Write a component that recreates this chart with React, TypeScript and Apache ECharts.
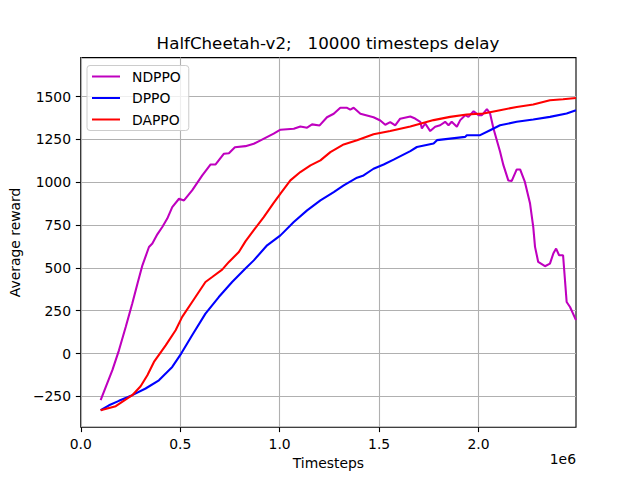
import React, { useEffect, useRef } from "react";
import * as echarts from "echarts";

// x values are in units of 1e6 timesteps
const ndppoX = [0.1, 0.126, 0.159, 0.192, 0.226, 0.259, 0.285, 0.31, 0.343, 0.36, 0.385, 0.41, 0.435, 0.46, 0.494, 0.519, 0.56, 0.611, 0.653, 0.678, 0.72, 0.745, 0.775, 0.828, 0.87, 0.904, 0.97, 1.004, 1.071, 1.104, 1.138, 1.163, 1.201, 1.238, 1.272, 1.305, 1.339, 1.355, 1.372, 1.406, 1.472, 1.506, 1.531, 1.556, 1.581, 1.606, 1.657, 1.681, 1.707, 1.715, 1.732, 1.757, 1.782, 1.807, 1.832, 1.849, 1.865, 1.891, 1.908, 1.933, 1.949, 1.975, 2.0, 2.017, 2.042, 2.058, 2.075, 2.108, 2.125, 2.15, 2.167, 2.192, 2.209, 2.233, 2.259, 2.275, 2.284, 2.3, 2.334, 2.359, 2.376, 2.39, 2.405, 2.425, 2.443, 2.46, 2.49];
const ndppoY = [-272, -195, -97, 19, 155, 292, 408, 515, 622, 642, 696, 739, 788, 855, 904, 894, 953, 1040, 1104, 1104, 1167, 1170, 1205, 1211, 1225, 1245, 1284, 1307, 1313, 1326, 1319, 1338, 1332, 1380, 1400, 1435, 1435, 1424, 1435, 1400, 1380, 1361, 1336, 1351, 1332, 1371, 1384, 1372, 1353, 1314, 1343, 1299, 1324, 1333, 1353, 1333, 1353, 1324, 1363, 1392, 1382, 1415, 1392, 1392, 1427, 1402, 1314, 1180, 1100, 1010, 1008, 1075, 1075, 1002, 876, 740, 623, 535, 510, 525, 584, 613, 574, 574, 301, 272, 195];

const dppoX = [0.1, 0.142, 0.192, 0.259, 0.326, 0.393, 0.46, 0.505, 0.56, 0.627, 0.694, 0.761, 0.828, 0.87, 0.937, 1.004, 1.071, 1.138, 1.205, 1.272, 1.322, 1.389, 1.422, 1.472, 1.523, 1.573, 1.657, 1.69, 1.774, 1.791, 1.857, 1.933, 1.941, 2.008, 2.058, 2.108, 2.192, 2.275, 2.359, 2.443, 2.49];
const dppoY = [-331, -302, -276, -243, -204, -156, -78, 0, 107, 233, 330, 418, 496, 544, 632, 690, 768, 836, 894, 943, 982, 1027, 1040, 1079, 1104, 1132, 1182, 1206, 1226, 1246, 1255, 1265, 1275, 1275, 1304, 1333, 1353, 1367, 1382, 1402, 1421];

const dappoX = [0.1, 0.176, 0.259, 0.301, 0.335, 0.368, 0.427, 0.477, 0.51, 0.56, 0.627, 0.661, 0.711, 0.745, 0.795, 0.828, 0.87, 0.92, 0.97, 1.004, 1.054, 1.104, 1.155, 1.205, 1.255, 1.322, 1.389, 1.472, 1.556, 1.657, 1.774, 1.857, 1.941, 2.025, 2.108, 2.192, 2.275, 2.359, 2.425, 2.49];
const dappoY = [-331, -307, -243, -191, -127, -49, 48, 136, 214, 301, 418, 447, 490, 535, 593, 655, 720, 797, 880, 934, 1011, 1060, 1099, 1128, 1176, 1221, 1245, 1280, 1299, 1326, 1363, 1382, 1396, 1402, 1421, 1440, 1454, 1479, 1485, 1492];

const xTicks = [0, 0.5, 1.0, 1.5, 2.0];
const yTicks = [-250, 0, 250, 500, 750, 1000, 1250, 1500];

const seriesNames = ["NDPPO", "DPPO", "DAPPO"];
const seriesColors = ["#bf00bf", "#0000ff", "#ff0000"];

const TITLE = "HalfCheetah-v2;   10000 timesteps delay";
const FONT = "DejaVu Sans";

const zip = (xs: number[], ys: number[]) => xs.map((x, i) => [x, ys[i]]);

export default function App() {
  const ref = useRef<HTMLDivElement>(null);
  useEffect(() => {
    document.body.style.margin = "0";
    const chart = echarts.init(ref.current!, null, { renderer: "svg" });
    const datasets = [zip(ndppoX, ndppoY), zip(dppoX, dppoY), zip(dappoX, dappoY)];
    chart.setOption({
      animation: false,
      backgroundColor: "#ffffff",
      textStyle: { fontFamily: FONT },
      title: {
        text: TITLE,
        left: 323,
        textAlign: "center",
        top: 29,
        textStyle: { fontFamily: FONT, fontSize: 16.7, fontWeight: "normal", color: "#000" },
      },
      grid: {
        left: 80,
        right: 64,
        top: 57.6,
        bottom: 52.8,
        show: true,
        borderColor: "#000",
        borderWidth: 1.1,
        backgroundColor: "transparent",
      },
      legend: {
        orient: "vertical",
        left: 87,
        top: 65.5,
        data: seriesNames,
        icon: "rect",
        itemWidth: 28,
        itemHeight: 2,
        itemGap: 7.5,
        padding: [4, 8, 4, 5],
        borderColor: "#cccccc",
        borderWidth: 1,
        borderRadius: 3,
        backgroundColor: "rgba(255,255,255,0.8)",
        textStyle: { fontFamily: FONT, fontSize: 13.9, color: "#000", padding: [0, 0, 0, 7] },
      },
      xAxis: {
        type: "value",
        min: 0,
        max: 2.49,
        interval: 0.5,
        name: "Timesteps",
        nameLocation: "middle",
        nameGap: 27,
        nameTextStyle: { fontFamily: FONT, fontSize: 13.9, color: "#000" },
        axisLine: { show: false, onZero: false },
        axisTick: { show: true, length: 4.9, lineStyle: { color: "#000", width: 1.1 }, customValues: xTicks },
        axisLabel: {
          margin: 9.7,
          fontFamily: FONT,
          fontSize: 13.9,
          color: "#000",
          customValues: xTicks,
          formatter: (v: number) => v.toFixed(1),
        },
        splitLine: { show: true, lineStyle: { color: "#b0b0b0", width: 1.1 } },
      },
      yAxis: {
        type: "value",
        min: -430,
        max: 1728,
        minInterval: 250,
        maxInterval: 250,
        name: "Average reward",
        nameLocation: "middle",
        nameGap: 49,
        nameRotate: 90,
        nameTextStyle: { fontFamily: FONT, fontSize: 13.9, color: "#000" },
        axisLine: { show: false, onZero: false },
        axisTick: { show: true, length: 4.9, lineStyle: { color: "#000", width: 1.1 }, customValues: yTicks },
        axisLabel: {
          margin: 9.7,
          fontFamily: FONT,
          fontSize: 13.9,
          color: "#000",
          customValues: yTicks,
          formatter: (v: number) => (v < 0 ? "\u2212" + Math.abs(v) : String(v)),
        },
        splitLine: { show: true, lineStyle: { color: "#b0b0b0", width: 1.1 } },
      },
      graphic: [
        {
          type: "text",
          right: 64,
          top: 452,
          style: { text: "1e6", fontFamily: FONT, fontSize: 13.9, fill: "#000" },
        },
      ],
      series: seriesNames.map((name, i) => ({
        name,
        type: "line",
        data: datasets[i],
        showSymbol: false,
        symbol: "none",
        color: seriesColors[i],
        lineStyle: { width: 2.08, color: seriesColors[i] },
        z: 3 + i,
      })),
    });
    return () => chart.dispose();
  }, []);
  return <div ref={ref} style={{ width: 640, height: 480 }} />;
}
